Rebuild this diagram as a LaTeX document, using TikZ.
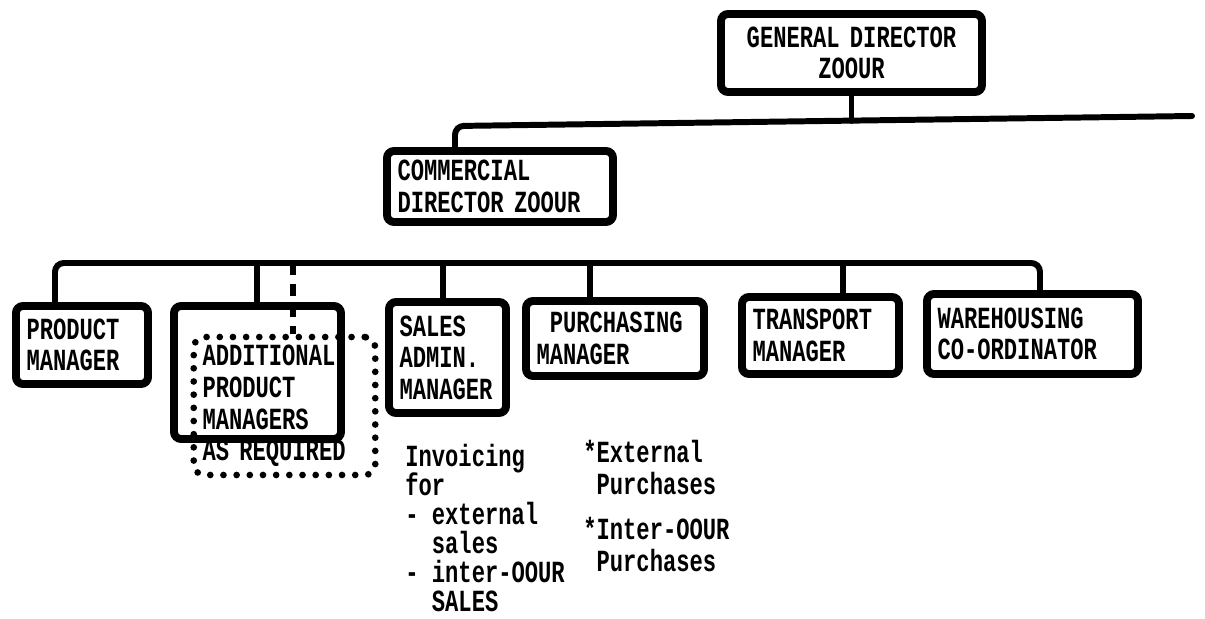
\documentclass[tikz,border=0pt]{standalone}
\usepackage{fontspec}
\newfontfamily\orgfont[FakeStretch=0.72]{Liberation Mono}
\newcommand\orgtext{\orgfont\bfseries\fontsize{17.5}{18}\selectfont}

\begin{document}
\begin{tikzpicture}[x=0.02cm, y=-0.02cm,
  every node/.style={font=\orgtext},
  orgbox/.style={draw, line width=4.5pt, rounded corners=4pt, align=left, inner xsep=6pt, inner ysep=3pt},
  conn/.style={line width=3.4pt, line cap=round, rounded corners=5pt},
  dotbox/.style={draw, line width=3.8pt, line cap=round, dash pattern=on 0pt off 7.5pt, rounded corners=6pt, align=left, inner xsep=5pt},
  note/.style={anchor=north west, align=left, inner sep=0pt}]
  \useasboundingbox (0,0) rectangle (1205,619);

  % directors
  \node[orgbox, align=center, text width=4.8cm, minimum height=1.56cm] (gd) at (851.5,53) {GENERAL DIRECTOR\\ZOOUR};
  \node[orgbox, text width=4.1cm, minimum height=1.42cm] (cd) at (500,186.5) {COMMERCIAL\\DIRECTOR ZOOUR};

  % managers
  \node[orgbox, text width=2.22cm, minimum height=1.56cm] (pm) at (82,345) {PRODUCT\\MANAGER};
  \node[orgbox, minimum width=3.34cm, minimum height=2.66cm] (apm) at (257.5,372.5) {};
  \node[dotbox, text width=3.28cm, minimum height=2.76cm] (adx) at (284.5,406) {ADDITIONAL\\PRODUCT\\MANAGERS\\AS REQUIRED};
  \node[orgbox, text width=1.92cm, minimum height=2.22cm] (sam) at (447.5,357.5) {SALES\\ADMIN.\\MANAGER};
  \node[orgbox, text width=3.14cm, minimum height=1.5cm] (pur) at (615,338.5) {\phantom{M}PURCHASING\\MANAGER};
  \node[orgbox, text width=2.72cm, minimum height=1.54cm] (trm) at (820.5,335.5) {TRANSPORT\\MANAGER};
  \node[orgbox, text width=3.8cm, minimum height=1.6cm] (whc) at (1032.5,334) {WAREHOUSING\\CO-ORDINATOR};

  % notes
  \node[note] (inv) at (405,444) {Invoicing\\[-1.5pt]for\\[-1.5pt]- external\\[-1.5pt]\phantom{- }sales\\[-1.5pt]- inter-OOUR\\[-1.5pt]\phantom{- }SALES};
  \node[note] (prch) at (583,440) {*External\\\phantom{*}Purchases\\[8pt]*Inter-OOUR\\\phantom{*}Purchases};

  % lines
  \coordinate (bus1l) at (455,126);
  \coordinate (bus1r) at (1192,116);
  \coordinate (bus2l) at (55,263);
  \coordinate (bus2r) at (1040,263);
  \draw[conn] (gd.south) -- ++(0,25);
  \draw[conn] (bus1r) -- (bus1l) -- (bus1l |- cd.north);
  \draw[conn] (bus2l |- pm.north) -- (bus2l) -- (bus2r) -- (bus2r |- whc.north);
  \foreach \n/\x in {apm/257, sam/443, pur/590, trm/843}
    \draw[conn] (\x,263) -- (\x,263 |- \n.north);
  \draw[line width=3pt, dash pattern=on 7pt off 5pt] (293,263) -- (293,263 |- adx.north);
\end{tikzpicture}
\end{document}
